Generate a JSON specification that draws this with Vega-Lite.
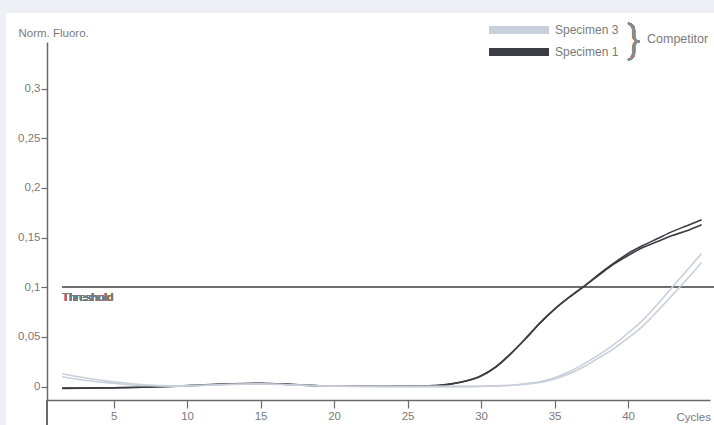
{
  "$schema": "https://vega.github.io/schema/vega-lite/v6.json",
  "width": 663,
  "height": 358,
  "autosize": "none",
  "padding": {"left": 47, "top": 42, "right": 4, "bottom": 25},
  "background": "#eef0f5",
  "config": {
    "view": {"stroke": null},
    "font": "Liberation Sans",
    "axis": {"grid": false, "domainColor": "#6a6a6a", "domainWidth": 1.5, "tickColor": "#6a6a6a", "tickWidth": 1.2, "labelColor": "#7a7a7a", "labelFontSize": 11.5, "labelFont": "Liberation Sans", "titleColor": "#7a7a7a", "titleFontSize": 11.5, "titleFontWeight": "normal", "titleFont": "Liberation Sans"}
  },
  "data": {"values": [
    {"specimen":"Specimen 1","rep":"a","cycle":1.5,"fluor":-0.0015},{"specimen":"Specimen 1","rep":"a","cycle":3,"fluor":-0.0013},{"specimen":"Specimen 1","rep":"a","cycle":5,"fluor":-0.001},{"specimen":"Specimen 1","rep":"a","cycle":7,"fluor":-0.0005},{"specimen":"Specimen 1","rep":"a","cycle":9,"fluor":0.0005},{"specimen":"Specimen 1","rep":"a","cycle":11,"fluor":0.0018},{"specimen":"Specimen 1","rep":"a","cycle":13,"fluor":0.003},{"specimen":"Specimen 1","rep":"a","cycle":15,"fluor":0.0035},{"specimen":"Specimen 1","rep":"a","cycle":17,"fluor":0.0025},{"specimen":"Specimen 1","rep":"a","cycle":19,"fluor":0.001},{"specimen":"Specimen 1","rep":"a","cycle":21,"fluor":0.0005},{"specimen":"Specimen 1","rep":"a","cycle":23,"fluor":0.0005},{"specimen":"Specimen 1","rep":"a","cycle":25,"fluor":0.0008},{"specimen":"Specimen 1","rep":"a","cycle":27,"fluor":0.0012},{"specimen":"Specimen 1","rep":"a","cycle":28,"fluor":0.003},{"specimen":"Specimen 1","rep":"a","cycle":29,"fluor":0.006},{"specimen":"Specimen 1","rep":"a","cycle":30,"fluor":0.011},{"specimen":"Specimen 1","rep":"a","cycle":31,"fluor":0.02},{"specimen":"Specimen 1","rep":"a","cycle":32,"fluor":0.033},{"specimen":"Specimen 1","rep":"a","cycle":33,"fluor":0.048},{"specimen":"Specimen 1","rep":"a","cycle":34,"fluor":0.064},{"specimen":"Specimen 1","rep":"a","cycle":35,"fluor":0.078},{"specimen":"Specimen 1","rep":"a","cycle":36,"fluor":0.09},{"specimen":"Specimen 1","rep":"a","cycle":37,"fluor":0.101},{"specimen":"Specimen 1","rep":"a","cycle":38,"fluor":0.113},{"specimen":"Specimen 1","rep":"a","cycle":39,"fluor":0.124},{"specimen":"Specimen 1","rep":"a","cycle":40,"fluor":0.134},{"specimen":"Specimen 1","rep":"a","cycle":41,"fluor":0.142},{"specimen":"Specimen 1","rep":"a","cycle":42,"fluor":0.149},{"specimen":"Specimen 1","rep":"a","cycle":43,"fluor":0.156},{"specimen":"Specimen 1","rep":"a","cycle":44,"fluor":0.162},{"specimen":"Specimen 1","rep":"a","cycle":45,"fluor":0.168},
    {"specimen":"Specimen 1","rep":"b","cycle":1.5,"fluor":-0.0017},{"specimen":"Specimen 1","rep":"b","cycle":3,"fluor":-0.0015},{"specimen":"Specimen 1","rep":"b","cycle":5,"fluor":-0.0012},{"specimen":"Specimen 1","rep":"b","cycle":7,"fluor":-0.0006},{"specimen":"Specimen 1","rep":"b","cycle":9,"fluor":0.0003},{"specimen":"Specimen 1","rep":"b","cycle":11,"fluor":0.0015},{"specimen":"Specimen 1","rep":"b","cycle":13,"fluor":0.0027},{"specimen":"Specimen 1","rep":"b","cycle":15,"fluor":0.0032},{"specimen":"Specimen 1","rep":"b","cycle":17,"fluor":0.0022},{"specimen":"Specimen 1","rep":"b","cycle":19,"fluor":0.0008},{"specimen":"Specimen 1","rep":"b","cycle":21,"fluor":0.0004},{"specimen":"Specimen 1","rep":"b","cycle":23,"fluor":0.0004},{"specimen":"Specimen 1","rep":"b","cycle":25,"fluor":0.0007},{"specimen":"Specimen 1","rep":"b","cycle":27,"fluor":0.0011},{"specimen":"Specimen 1","rep":"b","cycle":28,"fluor":0.0028},{"specimen":"Specimen 1","rep":"b","cycle":29,"fluor":0.0058},{"specimen":"Specimen 1","rep":"b","cycle":30,"fluor":0.0108},{"specimen":"Specimen 1","rep":"b","cycle":31,"fluor":0.0198},{"specimen":"Specimen 1","rep":"b","cycle":32,"fluor":0.0328},{"specimen":"Specimen 1","rep":"b","cycle":33,"fluor":0.048},{"specimen":"Specimen 1","rep":"b","cycle":34,"fluor":0.064},{"specimen":"Specimen 1","rep":"b","cycle":35,"fluor":0.078},{"specimen":"Specimen 1","rep":"b","cycle":36,"fluor":0.09},{"specimen":"Specimen 1","rep":"b","cycle":37,"fluor":0.101},{"specimen":"Specimen 1","rep":"b","cycle":38,"fluor":0.112},{"specimen":"Specimen 1","rep":"b","cycle":39,"fluor":0.123},{"specimen":"Specimen 1","rep":"b","cycle":40,"fluor":0.132},{"specimen":"Specimen 1","rep":"b","cycle":41,"fluor":0.14},{"specimen":"Specimen 1","rep":"b","cycle":42,"fluor":0.146},{"specimen":"Specimen 1","rep":"b","cycle":43,"fluor":0.152},{"specimen":"Specimen 1","rep":"b","cycle":44,"fluor":0.157},{"specimen":"Specimen 1","rep":"b","cycle":45,"fluor":0.163},
    {"specimen":"Specimen 3","rep":"a","cycle":1.5,"fluor":0.013},{"specimen":"Specimen 3","rep":"a","cycle":3,"fluor":0.009},{"specimen":"Specimen 3","rep":"a","cycle":5,"fluor":0.005},{"specimen":"Specimen 3","rep":"a","cycle":7,"fluor":0.002},{"specimen":"Specimen 3","rep":"a","cycle":9,"fluor":0.001},{"specimen":"Specimen 3","rep":"a","cycle":11,"fluor":0.0015},{"specimen":"Specimen 3","rep":"a","cycle":13,"fluor":0.0025},{"specimen":"Specimen 3","rep":"a","cycle":15,"fluor":0.003},{"specimen":"Specimen 3","rep":"a","cycle":17,"fluor":0.002},{"specimen":"Specimen 3","rep":"a","cycle":19,"fluor":0.001},{"specimen":"Specimen 3","rep":"a","cycle":21,"fluor":0.0005},{"specimen":"Specimen 3","rep":"a","cycle":23,"fluor":0.0003},{"specimen":"Specimen 3","rep":"a","cycle":25,"fluor":0.0003},{"specimen":"Specimen 3","rep":"a","cycle":27,"fluor":0.0003},{"specimen":"Specimen 3","rep":"a","cycle":28,"fluor":0.0003},{"specimen":"Specimen 3","rep":"a","cycle":29,"fluor":0.0003},{"specimen":"Specimen 3","rep":"a","cycle":30,"fluor":0.0005},{"specimen":"Specimen 3","rep":"a","cycle":31,"fluor":0.001},{"specimen":"Specimen 3","rep":"a","cycle":32,"fluor":0.0015},{"specimen":"Specimen 3","rep":"a","cycle":33,"fluor":0.003},{"specimen":"Specimen 3","rep":"a","cycle":34,"fluor":0.005},{"specimen":"Specimen 3","rep":"a","cycle":35,"fluor":0.009},{"specimen":"Specimen 3","rep":"a","cycle":36,"fluor":0.015},{"specimen":"Specimen 3","rep":"a","cycle":37,"fluor":0.023},{"specimen":"Specimen 3","rep":"a","cycle":38,"fluor":0.032},{"specimen":"Specimen 3","rep":"a","cycle":39,"fluor":0.042},{"specimen":"Specimen 3","rep":"a","cycle":40,"fluor":0.054},{"specimen":"Specimen 3","rep":"a","cycle":41,"fluor":0.067},{"specimen":"Specimen 3","rep":"a","cycle":42,"fluor":0.083},{"specimen":"Specimen 3","rep":"a","cycle":43,"fluor":0.1},{"specimen":"Specimen 3","rep":"a","cycle":44,"fluor":0.117},{"specimen":"Specimen 3","rep":"a","cycle":45,"fluor":0.134},
    {"specimen":"Specimen 3","rep":"b","cycle":1.5,"fluor":0.01},{"specimen":"Specimen 3","rep":"b","cycle":3,"fluor":0.0065},{"specimen":"Specimen 3","rep":"b","cycle":5,"fluor":0.0035},{"specimen":"Specimen 3","rep":"b","cycle":7,"fluor":0.0012},{"specimen":"Specimen 3","rep":"b","cycle":9,"fluor":0.0006},{"specimen":"Specimen 3","rep":"b","cycle":11,"fluor":0.0012},{"specimen":"Specimen 3","rep":"b","cycle":13,"fluor":0.0022},{"specimen":"Specimen 3","rep":"b","cycle":15,"fluor":0.0027},{"specimen":"Specimen 3","rep":"b","cycle":17,"fluor":0.0018},{"specimen":"Specimen 3","rep":"b","cycle":19,"fluor":0.0008},{"specimen":"Specimen 3","rep":"b","cycle":21,"fluor":0.0003},{"specimen":"Specimen 3","rep":"b","cycle":23,"fluor":0.0001},{"specimen":"Specimen 3","rep":"b","cycle":25,"fluor":0.0001},{"specimen":"Specimen 3","rep":"b","cycle":27,"fluor":0.0001},{"specimen":"Specimen 3","rep":"b","cycle":28,"fluor":0.0001},{"specimen":"Specimen 3","rep":"b","cycle":29,"fluor":0.0001},{"specimen":"Specimen 3","rep":"b","cycle":30,"fluor":0.0003},{"specimen":"Specimen 3","rep":"b","cycle":31,"fluor":0.0007},{"specimen":"Specimen 3","rep":"b","cycle":32,"fluor":0.0012},{"specimen":"Specimen 3","rep":"b","cycle":33,"fluor":0.0025},{"specimen":"Specimen 3","rep":"b","cycle":34,"fluor":0.0043},{"specimen":"Specimen 3","rep":"b","cycle":35,"fluor":0.0078},{"specimen":"Specimen 3","rep":"b","cycle":36,"fluor":0.013},{"specimen":"Specimen 3","rep":"b","cycle":37,"fluor":0.02},{"specimen":"Specimen 3","rep":"b","cycle":38,"fluor":0.029},{"specimen":"Specimen 3","rep":"b","cycle":39,"fluor":0.038},{"specimen":"Specimen 3","rep":"b","cycle":40,"fluor":0.049},{"specimen":"Specimen 3","rep":"b","cycle":41,"fluor":0.061},{"specimen":"Specimen 3","rep":"b","cycle":42,"fluor":0.076},{"specimen":"Specimen 3","rep":"b","cycle":43,"fluor":0.092},{"specimen":"Specimen 3","rep":"b","cycle":44,"fluor":0.108},{"specimen":"Specimen 3","rep":"b","cycle":45,"fluor":0.125}
  ]},
  "layer": [
    {
      "mark": {"type": "rect", "fill": "#ffffff", "clip": false},
      "encoding": {
        "x": {"datum": -2.29, "type": "quantitative", "scale": {"domain": [0.47, 45.57], "nice": false, "zero": false},
          "axis": {"zindex": 2, "values": [5, 10, 15, 20, 25, 30, 35, 40], "tickSize": 8, "labelPadding": 2, "title": "Cycles", "titleX": 629, "titleY": 20, "titleAlign": "left", "titleBaseline": "alphabetic"}},
        "x2": {"datum": 46.5},
        "y": {"datum": 0.376, "type": "quantitative", "scale": {"domain": [-0.0134, 0.3468], "nice": false, "zero": false},
          "axis": {"zindex": 2, "values": [0, 0.05, 0.1, 0.15, 0.2, 0.25, 0.3], "tickSize": 6, "labelPadding": 1, "labelExpr": "replace(toString(datum.value), '.', ',')", "title": "Norm. Fluoro.", "titleAngle": 0, "titleX": -29, "titleY": -6, "titleAlign": "left", "titleBaseline": "alphabetic"}},
        "y2": {"datum": -0.05}
      }
    },
    {
      "mark": {"type": "rule", "color": "#6a6a6a", "strokeWidth": 1.5, "clip": false},
      "encoding": {
        "x": {"datum": 0.47, "type": "quantitative"},
        "y": {"datum": -0.0134, "type": "quantitative"},
        "y2": {"datum": -0.0395}
      }
    },
    {
      "mark": {"type": "rule", "color": "#6e6e6e", "strokeWidth": 1.3, "clip": false},
      "encoding": {
        "x": {"datum": 1.5, "type": "quantitative"},
        "x2": {"datum": 46.5},
        "y": {"datum": 0.1, "type": "quantitative"}
      }
    },
    {
      "mark": {"type": "line", "interpolate": "monotone", "strokeWidth": 1.6},
      "encoding": {
        "x": {"field": "cycle", "type": "quantitative"},
        "y": {"field": "fluor", "type": "quantitative"},
        "color": {
          "field": "specimen", "type": "nominal",
          "scale": {"domain": ["Specimen 3", "Specimen 1"], "range": ["#c9cedb", "#3c3c43"]},
          "legend": {
            "orient": "none", "legendX": 442, "legendY": -22, "padding": 0, "rowPadding": 6,
            "title": "Competitor", "titleOrient": "right", "titleAnchor": "middle", "titleBaseline": "middle",
            "titlePadding": 29, "titleFontSize": 12.5, "titleFontWeight": "normal", "titleColor": "#7a7a7a", "titleFont": "Liberation Sans",
            "labelFontSize": 12, "labelColor": "#7a7a7a", "labelFont": "Liberation Sans", "labelOffset": 46,
            "symbolType": "M-1,-0.4H5V0.4H-1Z", "symbolSize": 400, "symbolStrokeWidth": 0,
            "encode": {"symbols": {"update": {"fill": {"scale": "color", "field": "value"}, "fillOpacity": {"value": 1}}}}
          }
        },
        "detail": {"field": "rep"}
      }
    },
    {
      "mark": {"type": "text", "text": "Threshold", "align": "left", "baseline": "middle", "dy": 11, "fontSize": 11.5, "color": "#7a7a7a", "font": "Liberation Sans"},
      "encoding": {
        "x": {"datum": 1.5, "type": "quantitative"},
        "y": {"datum": 0.1, "type": "quantitative"}
      }
    },
    {
      "mark": {"type": "text", "text": "}", "align": "center", "baseline": "middle", "fontSize": 38, "fontWeight": 300, "color": "#8a8a8a", "font": "Roboto"},
      "encoding": {
        "x": {"datum": 40.4, "type": "quantitative"},
        "y": {"datum": 0.3466, "type": "quantitative"}
      }
    }
  ]
}
